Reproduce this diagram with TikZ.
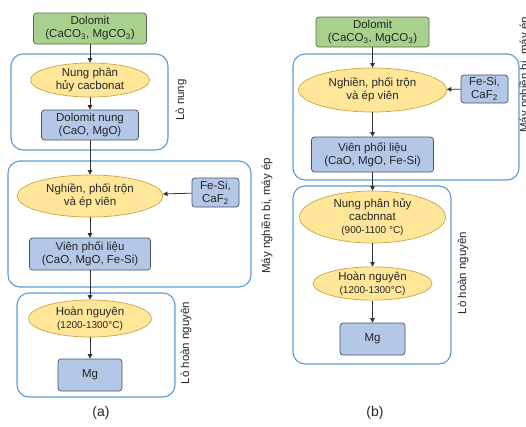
\documentclass[tikz,border=0pt]{standalone}
\usepackage{fontspec}
\setmainfont{Liberation Sans}
\usetikzlibrary{shapes.geometric,arrows.meta}
\definecolor{grfill}{HTML}{A9D18E}
\definecolor{grdraw}{HTML}{5A6B4E}
\definecolor{blfill}{HTML}{B4C7E7}
\definecolor{bldraw}{HTML}{44546A}
\definecolor{yefill}{HTML}{FFE699}
\definecolor{yedraw}{HTML}{C9A640}
\definecolor{cont}{HTML}{5B9BD5}
\definecolor{txt}{HTML}{262626}
\begin{document}
\begin{tikzpicture}[x=1pt,y=-1pt,
  every node/.style={font=\fontsize{11.5}{13}\selectfont, align=center, inner sep=0pt, text=txt},
  greenbox/.style={rectangle, rounded corners=3pt, fill=grfill, draw=grdraw, line width=0.7pt},
  bluebox/.style={rectangle, rounded corners=3pt, fill=blfill, draw=bldraw, line width=0.7pt},
  yell/.style={ellipse, fill=yefill, draw=yedraw, line width=0.7pt},
  container/.style={draw=cont, line width=1.1pt, rounded corners=12pt},
  sidelabel/.style={rotate=90},
  caption/.style={font=\fontsize{14}{16}\selectfont},
  arr/.style={-{Triangle[length=4.5pt,width=4.5pt]}, line width=0.8pt, draw=black!80}
]
\useasboundingbox (0,0) rectangle (526,426);
\newcommand{\tmpsm}[1]{{\fontsize{10}{12}\selectfont #1}}
% ---------------- panel (a)
\draw[container] (11,54) rectangle (168,150);
\draw[container] (8,161) rectangle (251,287);
\draw[container] (17,293) rectangle (175,397);

\node[greenbox, minimum width=113pt, minimum height=31pt] (d1) at (90,28.5) {Dolomit\\(CaCO\textsubscript{3}, MgCO\textsubscript{3})};
\node[yell, minimum width=119pt, minimum height=34pt] (e1) at (90,80) {Nung phân\\hủy cacbonat};
\node[bluebox, minimum width=97pt, minimum height=30pt] (b1) at (90,125) {Dolomit nung\\(CaO, MgO)};
\node[sidelabel] (l1) at (181,100) {Lò nung};

\node[yell, minimum width=146pt, minimum height=42pt] (e2) at (90,196) {Nghiền, phối trộn\\và ép viên};
\node[bluebox, minimum width=47pt, minimum height=29pt] (f1) at (215.5,192.5) {Fe-Si,\\CaF\textsubscript{2}};
\node[bluebox, minimum width=121pt, minimum height=32pt] (b2) at (90,254) {Viên phối liệu\\(CaO, MgO, Fe-Si)};
\node[sidelabel] (l2) at (267,216) {Máy nghiền bi, máy ép};

\node[yell, minimum width=123pt, minimum height=37pt] (e3) at (90,318.5) {Hoàn nguyên\\\tmpsm{(1200-1300°C)}};
\node[bluebox, minimum width=64pt, minimum height=32pt] (m1) at (90,375) {Mg};
\node[sidelabel] (l3) at (186,343) {Lò hoàn nguyên};
\node[caption] (ta) at (101,413) {(a)};

\draw[arr] (d1) -- (e1);
\draw[arr] (e1) -- (b1);
\draw[arr] (b1) -- (e2);
\draw[arr] (f1) -- (e2);
\draw[arr] (e2) -- (b2);
\draw[arr] (b2) -- (e3);
\draw[arr] (e3) -- (m1);

% ---------------- panel (b)
\draw[container] (293,54) rectangle (519,180);
\draw[container] (293,186) rectangle (451,364);

\node[greenbox, minimum width=113pt, minimum height=30pt] (d2) at (372.5,32) {Dolomit\\(CaCO\textsubscript{3}, MgCO\textsubscript{3})};
\node[yell, minimum width=148pt, minimum height=44pt] (e4) at (372.5,90) {Nghiền, phối trộn\\và ép viên};
\node[bluebox, minimum width=47pt, minimum height=28pt] (f2) at (484.5,89) {Fe-Si,\\CaF\textsubscript{2}};
\node[bluebox, minimum width=122pt, minimum height=35pt] (b3) at (372.5,154.5) {Viên phối liệu\\(CaO, MgO, Fe-Si)};
\node[sidelabel] (l4) at (525,75) {Máy nghiền bi, máy ép};

\node[yell, minimum width=146pt, minimum height=46pt] (e5) at (372.5,217) {Nung phân hủy\\cacbnnat\\\tmpsm{(900-1100 °C)}};
\node[yell, minimum width=119pt, minimum height=29pt] (e6) at (372.5,283.5) {Hoàn nguyên\\\tmpsm{(1200-1300°C)}};
\node[bluebox, minimum width=65pt, minimum height=32pt] (m2) at (372.5,339) {Mg};
\node[sidelabel] (l5) at (463,273) {Lò hoàn nguyên};
\node[caption] (tb) at (375,413) {(b)};

\draw[arr] (d2) -- (e4);
\draw[arr] (f2) -- (e4);
\draw[arr] (e4) -- (b3);
\draw[arr] (b3) -- (e5);
\draw[arr] (e5) -- (e6);
\draw[arr] (e6) -- (m2);
\end{tikzpicture}
\end{document}
